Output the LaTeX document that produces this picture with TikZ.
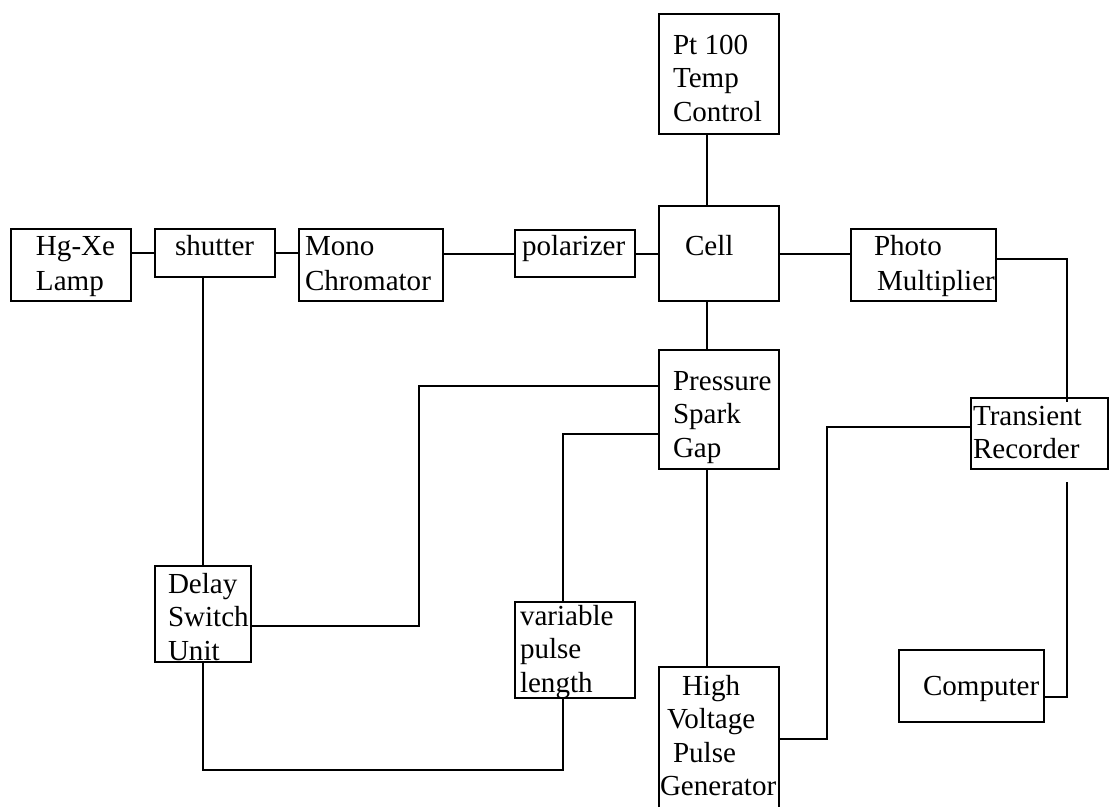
\documentclass[tikz,border=0pt]{standalone}
\usepackage{fontspec}
\setmainfont{Liberation Serif}
\usetikzlibrary{calc}
\tikzset{
  blk/.style={draw, line width=1.5pt, inner sep=0pt, outer sep=0pt, rectangle},
  ghost/.style={inner sep=0pt, outer sep=0pt, rectangle},
  wire/.style={line width=1.5pt, line join=miter},
  txt/.style={anchor=base west, inner sep=0pt, outer sep=0pt, font=\fontsize{21.8}{25.2}\selectfont},
  txtw/.style={anchor=base west, inner sep=0pt, outer sep=0pt, font=\fontsize{21.8}{26.6}\selectfont}
}
\newcommand{\lns}[1]{\begin{tabular}[t]{@{}l@{}}#1\end{tabular}}
\begin{document}
\begin{tikzpicture}[x=0.75pt, y=-0.75pt]
\useasboundingbox (0,0) rectangle (1109,807);
% boxes
\node[blk, minimum width=90pt, minimum height=54pt] (lamp) at (71,265) {};
\node[blk, minimum width=90pt, minimum height=36pt] (shutter) at (215,253) {};
\node[blk, minimum width=108pt, minimum height=54pt] (mono) at (371,265) {};
\node[blk, minimum width=90pt, minimum height=35.25pt] (polar) at (575,253.5) {};
\node[blk, minimum width=90pt, minimum height=71.25pt] (cell) at (719,253.5) {};
\node[blk, minimum width=90pt, minimum height=90pt] (pt) at (719,74) {};
\node[blk, minimum width=108.75pt, minimum height=54pt] (photo) at (923.5,265) {};
\node[blk, minimum width=102.75pt, minimum height=53.25pt] (trans) at (1039.5,433.5) {};
\node[blk, minimum width=108.75pt, minimum height=54pt] (comp) at (971.5,686) {};
\node[blk, minimum width=72pt, minimum height=72pt] (delay) at (203,614) {};
\node[blk, minimum width=90pt, minimum height=89.25pt] (press) at (719,409.5) {};
\node[blk, minimum width=90pt, minimum height=72pt] (varpl) at (575,650) {};
\node[ghost, minimum width=90pt, minimum height=105pt] (hv) at (719,737) {};
\draw[wire] (hv.south west) -- (hv.north west) -- (hv.north east) -- (hv.south east);
% texts
\node[txtw] (lampT) at (36,255) {\lns{Hg-Xe\\Lamp}};
\node[txt] (shutterT) at (175,255) {shutter};
\node[txtw] (monoT) at (305,255) {\lns{Mono\\Chromator}};
\node[txt] (polarT) at (522,255) {polarizer};
\node[txt] (cellT) at (685,255) {Cell};
\node[txt] (ptT) at (673,54) {\lns{Pt 100\\Temp\\Control}};
\node[txtw] (photoT) at (874,255) {\lns{Photo\\\hspace{2.25pt}Multiplier}};
\node[txt] (transT) at (973,425) {\lns{Transient\\Recorder}};
\node[txt] (delayT) at (168,593) {\lns{Delay\\Switch\\Unit}};
\node[txt] (pressT) at (673,390) {\lns{Pressure\\Spark\\Gap}};
\node[txt] (varplT) at (520,625) {\lns{variable\\pulse\\length}};
\node[txt] (hvT) at (660,695) {\lns{\hspace{16.5pt}High\\\hspace{5.25pt}Voltage\\\hspace{9.75pt}Pulse\\Generator}};
\node[txt] (compT) at (923,695) {Computer};
% connectors
\draw[wire] (lamp.east |- shutter.west) -- (shutter.west);
\draw[wire] (shutter.east) -- (mono.west |- shutter.east);
\draw[wire] (mono.east |- polar.west) -- (polar.west);
\draw[wire] (polar.east) -- (cell.west |- polar.east);
\draw[wire] (cell.east) -- (photo.west |- cell.east);
\draw[wire] ($(pt.south west)+(48,0)$) -- ($(cell.north west)+(48,0)$);
\draw[wire] ($(cell.south west)+(48,0)$) -- ($(press.north west)+(48,0)$);
\draw[wire] ($(press.south west)+(48,0)$) -- ($(hv.north west)+(48,0)$);
\draw[wire] ($(photo.north east)+(0,30)$) -| ($(trans.north west)+(96,4)$);
\coordinate (tfree) at ($(trans.south west)+(96,13)$);
\draw[wire] (tfree) |- ($(comp.north east)+(0,47)$);
\draw[wire] ($(trans.north west)+(0,29)$) -| ($(hv.north east)+(48,72)$) -- ($(hv.north east)+(0,72)$);
\draw[wire] ($(shutter.south west)+(48,0)$) -- (delay.north);
\draw[wire] ($(delay.north east)+(0,60)$) -| ($(press.north west)+(-240,36)$) -- ($(press.north west)+(0,36)$);
\draw[wire] ($(press.north west)+(0,84)$) -| ($(varpl.north west)+(48,0)$);
\draw[wire] (delay.south) |- ($(varpl.south west)+(48,72)$) -- ($(varpl.south west)+(48,0)$);
\end{tikzpicture}
\end{document}
